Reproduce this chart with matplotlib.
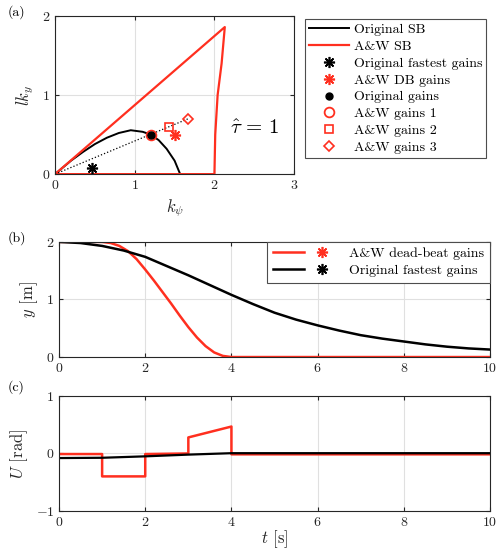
import matplotlib
matplotlib.use('Agg')
import matplotlib.pyplot as plt
from matplotlib.lines import Line2D
from matplotlib.legend_handler import HandlerTuple

plt.rcParams['font.family'] = 'serif'
plt.rcParams['font.serif'] = ['cmr10', 'DejaVu Serif']
plt.rcParams['mathtext.fontset'] = 'cm'
plt.rcParams['axes.formatter.use_mathtext'] = True
plt.rcParams['axes.unicode_minus'] = False

RED = '#ff2f1f'
AST = (8, 2, 0)

# (a) stability boundaries
k_orig_sb = [0, 0.1, 0.2, 0.35, 0.5, 0.65, 0.8, 0.95, 1.1, 1.2, 1.3, 1.4, 1.5, 1.57]
l_orig_sb = [0, 0.085, 0.17, 0.28, 0.38, 0.46, 0.52, 0.555, 0.535, 0.50, 0.43, 0.32, 0.17, 0]
k_aw_sb = [0, 2.13, 2.09, 2.04, 2.01, 2.0, 0]
l_aw_sb = [0, 1.86, 1.4, 1.0, 0.5, 0.0, 0]

k_fast, l_fast = 0.46, 0.08
k_db, l_db = 1.51, 0.49
k_gains = [1.2, 1.2, 1.43, 1.67]
l_gains = [0.50, 0.50, 0.60, 0.70]

# (b) responses
t_aw = [0, 0.5, 1.0, 1.2, 1.4, 1.6, 1.8, 2.0, 2.2, 2.4, 2.6, 2.8, 3.0, 3.2, 3.4, 3.6, 3.8, 4.0, 10]
y_aw = [2.0, 2.0, 2.0, 1.98, 1.93, 1.84, 1.7, 1.52, 1.33, 1.13, 0.93, 0.72, 0.52, 0.34, 0.19, 0.08, 0.02, 0, 0]
t_orig = [0, 0.5, 1, 1.5, 2, 2.5, 3, 3.5, 4, 4.5, 5, 5.5, 6, 6.5, 7, 7.5, 8, 8.5, 9, 9.5, 10]
y_orig = [2.0, 1.98, 1.93, 1.85, 1.74, 1.58, 1.42, 1.25, 1.08, 0.92, 0.77, 0.65, 0.55, 0.46,
          0.38, 0.32, 0.27, 0.22, 0.18, 0.15, 0.13]

# (c) inputs
t_u_aw = [0, 1, 1, 2, 2, 3, 3, 4, 4, 10]
u_aw = [-0.01, -0.01, -0.4, -0.4, -0.01, 0.0, 0.28, 0.47, -0.015, -0.015]
t_u_orig = [0, 1, 2, 3, 4, 10]
u_orig = [-0.08, -0.075, -0.05, -0.02, 0.005, 0.005]


def style(ax):
  ax.grid(True, color='0.88', linewidth=0.8)
  ax.set_axisbelow(True)
  for s in ax.spines.values():
    s.set_color('0.15')
    s.set_linewidth(0.8)
  ax.tick_params(direction='in', length=3, top=True, right=True, labelsize=10,
                 colors='0.15', labelcolor='0.15')


fig = plt.figure(figsize=(4.96, 5.51), dpi=100)

ax1 = fig.add_axes([0.111, 0.684, 0.482, 0.287])
ax1.plot(k_orig_sb, l_orig_sb, color='k', lw=1.4, label='Original SB')
ax1.plot(k_aw_sb, l_aw_sb, color=RED, lw=1.6, label='A&W SB')
ax1.plot([0, k_gains[-1]], [0, l_gains[-1]], ':', color='k', lw=0.9)
ax1.plot(k_fast, l_fast, linestyle='none', marker=AST, color='k', ms=8, mew=1.2,
         label='Original fastest gains')
ax1.plot(k_db, l_db, linestyle='none', marker=AST, color=RED, ms=8, mew=1.2, label='A&W DB gains')
ax1.plot(k_gains[1], l_gains[1], linestyle='none', marker='o', mfc='none', mec=RED, ms=7,
         mew=1.3, label='A&W gains 1')
ax1.plot(k_gains[0], l_gains[0], linestyle='none', marker='o', color='k', ms=5,
         label='Original gains')
ax1.plot(k_gains[2], l_gains[2], linestyle='none', marker='s', mfc='none', mec=RED, ms=5.5,
         mew=1.2, label='A&W gains 2')
ax1.plot(k_gains[3], l_gains[3], linestyle='none', marker='D', mfc='none', mec=RED, ms=5.5,
         mew=1.2, label='A&W gains 3')
ax1.set_xlim(0, 3)
ax1.set_ylim(0, 2)
ax1.set_xticks([0, 1, 2, 3])
ax1.set_yticks([0, 1, 2])
ax1.set_xlabel(r'$k_\psi$', fontsize=12, color='0.15')
ax1.set_ylabel(r'$lk_y$', fontsize=12, color='0.15')
ax1.text(2.5, 0.58, r'$\hat{\tau}\,=\,1$', fontsize=15, ha='center', va='center')
style(ax1)

h, lab = ax1.get_legend_handles_labels()
order = ['Original SB', 'A&W SB', 'Original fastest gains', 'A&W DB gains', 'Original gains',
         'A&W gains 1', 'A&W gains 2', 'A&W gains 3']
hd = dict(zip(lab, h))
leg = ax1.legend([hd[o] for o in order], order, loc='upper left',
                 bbox_to_anchor=(305 / 496, 1 - 19 / 551), bbox_transform=fig.transFigure,
                 borderaxespad=0, fontsize=10, labelspacing=0.3, handlelength=2.9,
                 handletextpad=0.3, borderpad=0.3, fancybox=False, framealpha=1)
leg.get_frame().set_edgecolor('0.3')
leg.get_frame().set_linewidth(0.8)

ax2 = fig.add_axes([0.119, 0.352, 0.869, 0.209])
l_aw, = ax2.plot(t_aw, y_aw, color=RED, lw=1.8)
l_or, = ax2.plot(t_orig, y_orig, color='k', lw=1.8)
m_aw = Line2D([], [], linestyle='none', marker=AST, color=RED, ms=8, mew=1.2)
m_or = Line2D([], [], linestyle='none', marker=AST, color='k', ms=8, mew=1.2)
ax2.set_xlim(0, 10)
ax2.set_ylim(0, 2)
ax2.set_xticks([0, 2, 4, 6, 8, 10])
ax2.set_yticks([0, 1, 2])
ax2.set_ylabel(r'$y$ [m]', fontsize=12, color='0.15')
style(ax2)
leg2 = ax2.legend([(l_aw, m_aw), (l_or, m_or)], ['A&W dead-beat gains', 'Original fastest gains'],
                  handler_map={tuple: HandlerTuple(ndivide=None, pad=0.2)},
                  loc='upper right', borderaxespad=0, fontsize=10, handlelength=4.6,
                  handletextpad=0.9, labelspacing=0.3, fancybox=False, framealpha=1)
leg2.get_frame().set_edgecolor('0.3')
leg2.get_frame().set_linewidth(0.8)

ax3 = fig.add_axes([0.119, 0.073, 0.869, 0.208])
ax3.plot(t_u_aw, u_aw, color=RED, lw=1.8)
ax3.plot(t_u_orig, u_orig, color='k', lw=1.6)
ax3.set_xlim(0, 10)
ax3.set_ylim(-1, 1)
ax3.set_xticks([0, 2, 4, 6, 8, 10])
ax3.set_yticks([-1, 0, 1])
ax3.set_ylabel(r'$U$ [rad]', fontsize=12, color='0.15')
ax3.set_xlabel(r'$t$ [s]', fontsize=12, color='0.15', labelpad=0)
style(ax3)

fig.text(8 / 496, 1 - 12 / 551, '(a)', fontsize=10, va='center')
fig.text(8 / 496, 1 - 238 / 551, '(b)', fontsize=10, va='center')
fig.text(8 / 496, 1 - 387 / 551, '(c)', fontsize=10, va='center')

fig.savefig('out.png', dpi=100)
